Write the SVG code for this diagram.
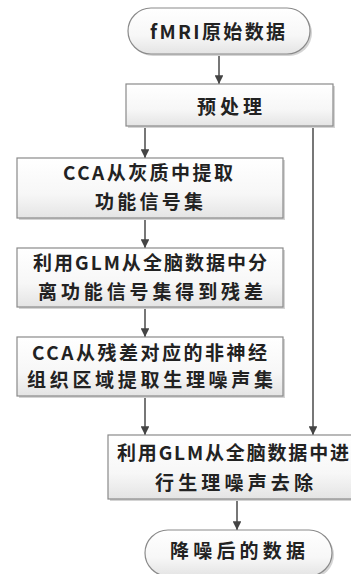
<svg xmlns="http://www.w3.org/2000/svg" width="351" height="574" viewBox="0 0 351 574">
<style>
.box{fill:url(#g);stroke:#8a8a8a;stroke-width:1.2}
.sh{fill:#d4d4d4}
.t{font-family:"Noto Sans CJK SC","Noto Sans",sans-serif;font-size:19px;font-weight:bold;fill:#222;text-anchor:middle}
.c{stroke:#555;stroke-width:1.6;fill:none}
</style>
<defs>
<linearGradient id="g" x1="0" y1="0" x2="0" y2="1">
<stop offset="0" stop-color="#ffffff"/>
<stop offset="0.6" stop-color="#f7f7f7"/>
<stop offset="1" stop-color="#e4e4e4"/>
</linearGradient>
<marker id="a" viewBox="0 0 10 10" refX="10" refY="5" markerWidth="5.5" markerHeight="5.5" orient="auto">
<path d="M0,0 L10,5 L0,10 Z" fill="#444"/>
</marker>
</defs>
<g id="connectors">
<line class="c" x1="219" y1="54" x2="219" y2="84" marker-end="url(#a)"/>
<line class="c" x1="145" y1="126" x2="145" y2="158" marker-end="url(#a)"/>
<line class="c" x1="145" y1="218" x2="145" y2="248" marker-end="url(#a)"/>
<line class="c" x1="145" y1="307" x2="145" y2="337" marker-end="url(#a)"/>
<line class="c" x1="145" y1="396" x2="145" y2="435" marker-end="url(#a)"/>
<line class="c" x1="313" y1="126" x2="313" y2="435" marker-end="url(#a)"/>
<line class="c" x1="237" y1="499" x2="237" y2="530" marker-end="url(#a)"/>
</g>
<g id="start">
<rect class="sh" x="130" y="10" width="182" height="46" rx="23"/>
<rect class="box" x="128" y="8" width="182" height="46" rx="23"/>
<text class="t" x="217.5" y="38.5" textLength="135" lengthAdjust="spacing">fMRI原始数据</text>
</g>
<g id="preprocess">
<rect class="sh" x="128" y="86" width="207" height="42"/>
<rect class="box" x="126" y="84" width="207" height="42"/>
<text class="t" x="229.5" y="113.5" textLength="65" lengthAdjust="spacing">预处理</text>
</g>
<g id="cca1">
<rect class="sh" x="19" y="160" width="266" height="60"/>
<rect class="box" x="17" y="158" width="266" height="60"/>
<text class="t" x="148" y="180" textLength="170" lengthAdjust="spacing">CCA从灰质中提取</text>
<text class="t" x="149" y="209" textLength="108" lengthAdjust="spacing">功能信号集</text>
</g>
<g id="glm1">
<rect class="sh" x="19" y="250" width="266" height="59"/>
<rect class="box" x="17" y="248" width="266" height="59"/>
<text class="t" x="150" y="270" textLength="234" lengthAdjust="spacing">利用GLM从全脑数据中分</text>
<text class="t" x="150.5" y="299" textLength="225" lengthAdjust="spacing">离功能信号集得到残差</text>
</g>
<g id="cca2">
<rect class="sh" x="19" y="339" width="266" height="59"/>
<rect class="box" x="17" y="337" width="266" height="59"/>
<text class="t" x="149.5" y="360" textLength="235" lengthAdjust="spacing">CCA从残差对应的非神经</text>
<text class="t" x="150" y="387" textLength="246" lengthAdjust="spacing">组织区域提取生理噪声集</text>
</g>
<g id="glm2">
<rect class="sh" x="110" y="437" width="258" height="64"/>
<rect class="box" x="108" y="435" width="258" height="64"/>
<text class="t" x="233" y="460" textLength="232" lengthAdjust="spacing">利用GLM从全脑数据中进</text>
<text class="t" x="234" y="490" textLength="158" lengthAdjust="spacing">行生理噪声去除</text>
</g>
<g id="end">
<rect class="sh" x="147" y="532" width="187" height="46" rx="23"/>
<rect class="box" x="145" y="530" width="187" height="46" rx="23"/>
<text class="t" x="237.5" y="558" textLength="135" lengthAdjust="spacing">降噪后的数据</text>
</g>
</svg>
